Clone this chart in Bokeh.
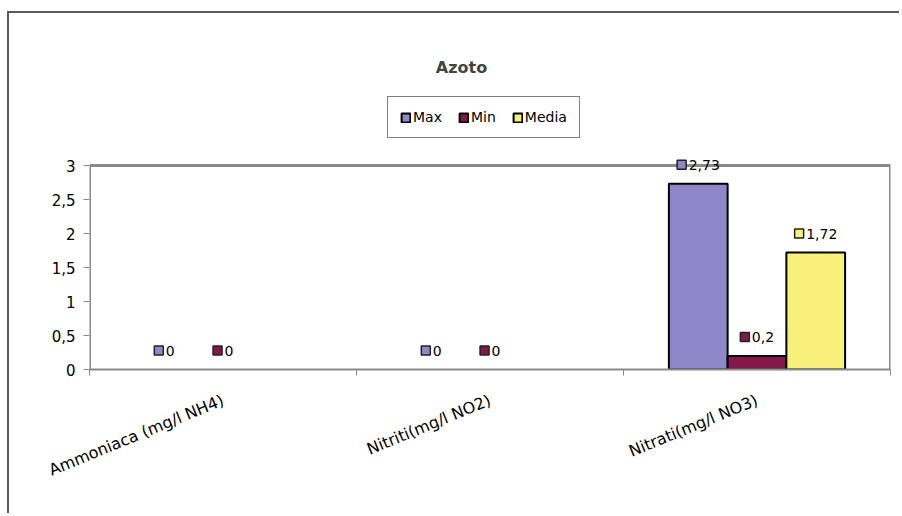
from bokeh.plotting import figure
from bokeh.models import (ColumnDataSource, Range1d, LinearAxis, FixedTicker, Legend,
                          LegendItem, Label)
from bokeh.core.properties import value
from bokeh.embed import file_html
from bokeh.resources import INLINE

# ---------------- data ----------------
title_text = "Azoto"
categories = ["Ammoniaca (mg/l NH4)", "Nitriti(mg/l NO2)", "Nitrati(mg/l NO3)"]
series_names = ["Max", "Min", "Media"]
max_vals = [0, 0, 2.73]
min_vals = [0, 0, 0.2]
media_vals = [None, None, 1.72]
y_ticks = [0, 0.5, 1, 1.5, 2, 2.5, 3]
y_tick_labels = ["0", "0,5", "1", "1,5", "2", "2,5", "3"]

# ---------------- style ----------------
colors = ["#8E88C8", "#84184C", "#F7F07A"]
FONT = "DejaVu Sans"
GRAY = "#8a8a8a"
series_vals = [max_vals, min_vals, media_vals]
bar_w = 0.22
offsets = [-bar_w, 0.0, bar_w]
CAT_PX = 267.0      # pixels per category
Y_PX = 68.0         # pixels per y unit
Y_TOP = 356 / 68.0  # frame extends above the value axis to hold title/legend
LABEL_RAISE = 19.0  # px above bar top

n_cat = len(categories)
cat_centers = [i + 0.5 for i in range(n_cat)]
y_axis_max = y_ticks[-1]

p = figure(x_range=Range1d(0, n_cat), y_range=Range1d(0, Y_TOP),
           width=892, height=502, output_backend="svg", toolbar_location=None,
           x_axis_location=None, y_axis_location=None,
           min_border_left=80, min_border_right=11, min_border_top=0, min_border_bottom=146)
p.styles = {"border-left": "2px solid #5a5a5a", "border-top": "2px solid #5a5a5a",
            "margin-top": "11px", "margin-left": "7px"}
p.xgrid.visible = False
p.ygrid.visible = False
p.outline_line_color = None
p.background_fill_color = "white"
p.border_fill_color = "white"

# plot-area border: left axis line, top and right edges
p.segment(x0=[0, 0, n_cat], y0=[0, y_axis_max, 0], x1=[0, n_cat, n_cat],
          y1=[y_axis_max, y_axis_max, y_axis_max], line_color=GRAY, line_width=3)

# y axis
yaxis = LinearAxis(ticker=FixedTicker(ticks=y_ticks),
                   major_label_overrides={t: l for t, l in zip(y_ticks, y_tick_labels)})
yaxis.axis_line_color = None
yaxis.major_tick_line_color = GRAY
yaxis.major_tick_line_width = 1
yaxis.major_tick_out = 6
yaxis.major_tick_in = 0
yaxis.minor_tick_line_color = None
yaxis.major_label_text_font = FONT
yaxis.major_label_text_font_size = "15px"
yaxis.major_label_text_color = "black"
yaxis.major_label_standoff = 8
p.add_layout(yaxis, "left")

# x axis: labels at category centres, ticks at category boundaries
xcat = LinearAxis(ticker=FixedTicker(ticks=cat_centers, minor_ticks=list(range(n_cat + 1))),
                  major_label_overrides={c: n for c, n in zip(cat_centers, categories)})
xcat.axis_line_color = GRAY
xcat.axis_line_width = 2
xcat.major_tick_line_color = None
xcat.minor_tick_line_color = GRAY
xcat.minor_tick_out = 6
xcat.minor_tick_in = 0
xcat.major_label_orientation = 0.39
xcat.major_label_text_font = FONT
xcat.major_label_text_font_size = "16px"
xcat.major_label_text_color = "black"
xcat.major_label_standoff = 24
p.add_layout(xcat, "below")

# bars
bar_renderers = []
for name, vals, off, col in zip(series_names, series_vals, offsets, colors):
    xs = [c + off for c, v in zip(cat_centers, vals) if v is not None and v > 0]
    tops = [v for v in vals if v is not None and v > 0]
    src = ColumnDataSource(dict(x=xs, val=tops))
    r = p.vbar(x="x", top="val", width=bar_w, source=src,
               fill_color=col, line_color="black", line_width=2)
    bar_renderers.append(r)

# data labels: legend-key square + value text
def text_w(s):
    return sum(4.5 if ch == "," else 8.9 for ch in s)

for name, vals, off, col in zip(series_names, series_vals, offsets, colors):
    sq_x, tx_x, ly, txt, txoff = [], [], [], [], []
    for c, v in zip(cat_centers, vals):
        if v is None:
            continue
        s = ("%g" % v).replace(".", ",")
        group = 10 + 2 + text_w(s)
        center = c + off
        sq_x.append(center + (-group / 2 + 5) / CAT_PX)
        tx_x.append(center)
        txoff.append(-group / 2 + 12)
        ly.append(v + LABEL_RAISE / Y_PX)
        txt.append(s)
    src = ColumnDataSource(dict(sx=sq_x, tx=tx_x, ly=ly, txt=txt, txoff=txoff))
    p.rect(x="sx", y="ly", width=9, height=9, width_units="screen", height_units="screen",
           source=src, fill_color=col, line_color="#222222", line_width=1.5)
    p.text(x="tx", y="ly", text="txt", x_offset="txoff", source=src,
           text_font=value(FONT), text_font_size="14px", text_color="black",
           text_align="left", text_baseline="middle")

# title
p.add_layout(Label(x=(461 - 89) / CAT_PX, y=y_axis_max + (164 - 66) / Y_PX, text=title_text,
                   text_font=FONT, text_font_size="16px", text_font_style="bold",
                   text_align="center", text_baseline="middle"))

# legend
legend = Legend(items=[LegendItem(label=n, renderers=[r]) for n, r in zip(series_names, bar_renderers)],
                orientation="horizontal", location=(298, 231))
legend.border_line_color = "black"
legend.border_line_width = 1
legend.background_fill_color = "white"
legend.background_fill_alpha = 1
legend.label_text_font = FONT
legend.label_text_font_size = "14px"
legend.label_text_color = "black"
legend.glyph_width = 11
legend.glyph_height = 11
legend.label_standoff = 2
legend.label_height = 15
legend.spacing = 16
legend.padding = 12
legend.margin = 0
p.add_layout(legend, "center")

open("out.html", "w").write(file_html(p, INLINE))
